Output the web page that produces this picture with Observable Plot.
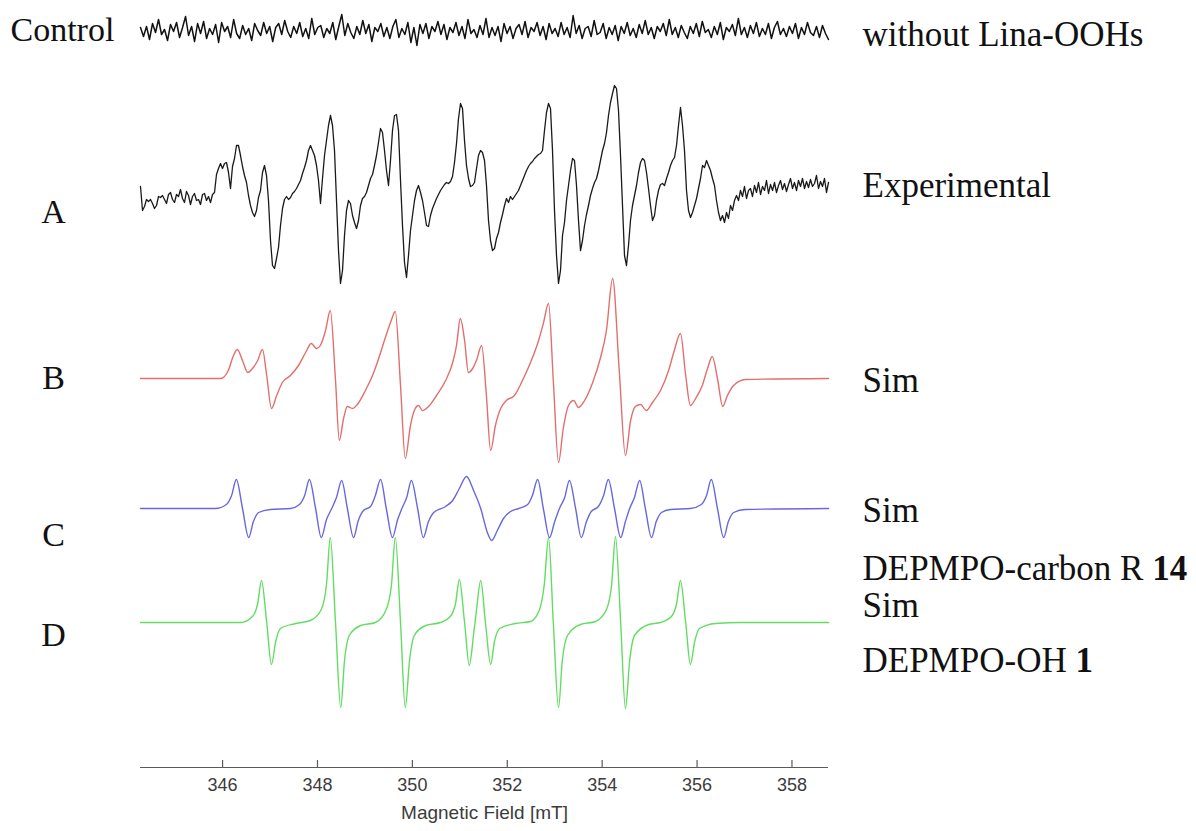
<!DOCTYPE html>
<html><head><meta charset="utf-8">
<script src="https://cdn.jsdelivr.net/npm/d3@7"></script>
<script src="https://cdn.jsdelivr.net/npm/@observablehq/plot@0.6"></script>
<style>body{margin:0;background:#fff}#chart svg{display:block}</style>
</head><body><div id="chart"></div>
<script>
// ---------- data (magnetic field in mT, signal in arbitrary units) ----------
const fieldStart = 344.27, fieldEnd = 358.77;
const fieldTicks = [346, 348, 350, 352, 354, 356, 358];

const controlSignal = [
3,-6,4,-9,7,-2,11,-4,1,-10,6,-1,8,-7,3,14,-5,4,-11,7,
-3,9,-8,2,-4,6,-12,8,-1,4,-7,11,-3,-8,5,-4,2,-10,7,0,
-5,8,-3,4,-11,3,7,-4,10,-1,-7,4,-3,8,-6,2,-8,12,-4,3,
5,-7,2,-3,8,-9,4,16,-5,7,-2,-8,4,-4,10,-3,6,-11,3,-1,
7,-6,3,-8,4,11,-7,2,-4,8,-12,3,-15,6,-3,7,-8,4,-1,9,
-4,6,-9,3,-2,8,-5,4,-8,11,-3,1,-7,5,-4,12,-7,3,-5,4,
-11,7,-3,4,-8,2,6,-4,9,-7,3,-1,8,-5,4,-9,7,-3,2,-6,
8,-4,3,-7,15,-3,5,-8,2,4,-6,10,-4,-2,7,-8,3,-4,5,-10,
4,-3,8,-5,2,-7,6,-3,10,-4,3,-8,4,-1,7,-5,11,-4,3,-7,
5,-2,-8,4,-3,7,-6,9,-2,1,-7,4,-4,8,-9,3,-1,6,-5,12,
-4,3,-7,5,-3,8,-6,2,-4,7,-8,3,9,-4,2,-6,4,-3,7,-8,
3,-4,8,-2,-5,4,-7,5,-3,-9];

const experimentalSignal = [
4,-20,-16,-9,-11,-9,-13,-18,-15,-6,-7,-5,-9,-13,-4,-2,-9,-12,-4,-6,
1,-8,-12,-1,-5,-14,-6,-3,-10,-9,-14,-4,-3,-10,-6,-12,-4,-2,16,22,
27,22,27,28,18,2,24,32,45,45,35,24,15,8,-5,-15,-22,-26,-20,-7,
0,18,25,15,-10,-50,-75,-78,-68,-57,-35,-18,-9,-6,-9,-7,-3,-1,2,6,
10,17,23,30,40,45,40,35,25,10,-13,12,35,50,65,75,65,40,-10,-60,
-93,-80,-45,-20,-10,-13,-25,-32,-38,-30,-15,-8,-6,-2,5,12,16,25,35,48,
62,58,40,20,5,30,60,75,76,60,10,-35,-72,-87,-65,-40,-25,-10,0,5,
-2,-10,-22,-35,-36,-25,-18,-13,-8,-4,0,3,6,8,7,9,14,28,47,72,
87,82,50,25,12,4,5,8,22,35,40,38,30,5,-30,-50,-60,-58,-48,-42,
-32,-24,-15,-8,-12,-6,-9,-6,-3,0,5,10,15,20,24,27,29,32,34,36,
37,40,60,78,87,82,40,-20,-65,-93,-80,-45,-32,-10,5,20,32,30,5,-30,
-60,-50,-35,-24,-15,-5,2,8,12,20,30,40,47,58,75,88,97,105,102,80,
35,-15,-65,-75,-55,-30,-15,-5,5,18,28,32,30,18,2,-15,-30,-25,-10,0,
6,7,5,12,18,25,30,33,45,65,83,65,40,0,-20,-27,-22,-15,-8,2,
12,25,23,30,25,20,12,5,-10,-22,-30,-25,-32,-22,-28,-15,-20,-10,-5,-10,
0,-6,4,-8,0,2,-6,5,-2,8,-4,4,0,10,-3,6,0,8,-2,5,
10,1,7,-1,6,12,2,8,0,10,4,12,2,9,3,11,4,7,15,2,
9,4,12,-2,8];

const simBField = [344.27,345.96,346.12,346.23,346.31,346.42,346.53,346.63,346.74,346.84,346.93,347.03,347.14,347.26,347.43,347.60,347.75,347.87,347.98,348.06,348.17,348.27,348.38,348.46,348.55,348.63,348.74,348.84,349.01,349.16,349.29,349.41,349.54,349.64,349.75,349.85,349.96,350.04,350.13,350.21,350.34,350.51,350.70,350.85,350.93,351.01,351.10,351.18,351.27,351.35,351.46,351.56,351.65,351.75,351.86,351.98,352.15,352.32,352.49,352.66,352.76,352.87,352.97,353.08,353.18,353.29,353.40,353.50,353.63,353.80,353.96,354.09,354.22,354.36,354.49,354.60,354.70,354.81,354.93,355.06,355.23,355.40,355.52,355.65,355.76,355.86,355.97,356.11,356.22,356.32,356.43,356.54,356.64,356.77,357.02,358.77];
const simBSignal = [0,0,8,23,29,18,6,10,18,29,3,-30,-17,-4,3,13,26,35,30,33,48,68,-2,-62,-40,-28,-30,-26,-12,3,20,38,56,67,-7,-80,-47,-32,-27,-32,-28,-17,-2,16,33,60,38,6,10,18,33,-17,-72,-47,-30,-22,-17,-2,16,38,55,75,-2,-84,-50,-27,-22,-29,-22,-4,20,48,100,8,-77,-42,-28,-26,-32,-24,-12,8,28,45,3,-27,-20,-7,10,22,0,-28,-17,-7,-1,0];

const simCField = [344.27,345.85,346.08,346.19,346.29,346.42,346.55,346.65,346.76,347.01,347.43,347.62,347.73,347.83,347.96,348.08,348.19,348.30,348.40,348.51,348.63,348.76,348.86,348.97,349.12,349.22,349.33,349.45,349.58,349.69,349.77,349.88,349.98,350.11,350.23,350.34,350.45,350.70,350.85,350.99,351.14,351.29,351.44,351.58,351.67,351.79,351.92,352.07,352.24,352.43,352.53,352.64,352.76,352.89,353.00,353.10,353.21,353.31,353.44,353.56,353.67,353.77,353.92,354.03,354.13,354.26,354.39,354.49,354.58,354.68,354.79,354.91,355.04,355.14,355.25,355.44,355.86,356.09,356.20,356.30,356.43,356.56,356.66,356.77,357.02,358.77];
const simCSignal = [0,0,4,13,29,0,-29,-13,-4,-1,0,4,13,29,0,-29,-11,0,11,28,0,-29,-12,-2,2,13,29,0,-29,-11,-1,11,28,0,-29,-13,-4,2,8,20,32,18,0,-24,-32,-22,-10,-3,0,4,13,29,0,-29,-13,0,11,28,0,-29,-13,-3,2,13,29,0,-29,-13,0,11,28,0,-29,-13,-4,-1,0,4,13,29,0,-29,-13,-4,-1,0];

const simDField = [344.27,346.38,346.63,346.74,346.82,346.93,347.03,347.12,347.22,347.54,347.85,348.08,348.19,348.27,348.38,348.49,348.57,348.67,348.91,349.22,349.45,349.56,349.64,349.75,349.85,349.94,350.04,350.28,350.59,350.80,350.91,350.99,351.10,351.20,351.29,351.35,351.44,351.54,351.65,351.73,351.84,352.17,352.49,352.68,352.78,352.87,352.97,353.08,353.16,353.27,353.54,353.86,354.09,354.20,354.28,354.39,354.49,354.58,354.68,354.98,355.23,355.46,355.57,355.65,355.76,355.86,355.95,356.05,356.39,356.92,358.77];
const simDSignal = [0,0,6,19,42,0,-42,-19,-6,-1,2,13,38,85,0,-85,-38,-13,-3,0,13,38,85,0,-85,-38,-13,-3,0,6,19,43,0,-43,-12,12,42,0,-42,-19,-6,-1,1,13,38,85,0,-85,-38,-13,-2,1,13,38,86,0,-86,-38,-13,-2,0,6,19,42,0,-42,-19,-6,-1,0,0];

const leftLetters = ["A", "B", "C", "D"];
const rightLabels = ["without Lina-OOHs", "Experimental", "Sim", "Sim", "DEPMPO-carbon R 14", "Sim", "DEPMPO-OH 1"];

// ---------- layout (vertical stacking offsets, label placement, styles) ----------
const offset = {control: 737, A: 577, B: 389, C: 259, D: 145};
const leftLetterY = [555, 389, 232, 132];
const rightLabelY = [733, 582, 387, 257, 199, 162, 107];
const serif = "'Liberation Serif','Times New Roman',Times,serif";
const sans = "'Liberation Sans',Arial,Helvetica,sans-serif";

function sweep(signal, off) {
  const n = signal.length;
  return signal.map((v, i) => ({field: fieldStart + i * (fieldEnd - fieldStart) / (n - 1), y: off + v}));
}
function pairs(field, signal, off) {
  return field.map((f, i) => ({field: f, y: off + signal[i]}));
}

const chart = Plot.plot({
  width: 1196, height: 831,
  marginLeft: 140, marginRight: 368, marginTop: 0, marginBottom: 64,
  x: {domain: [fieldStart, fieldEnd], axis: null},
  y: {domain: [0, 767], axis: null},
  style: {background: "#fff"},
  marks: [
    Plot.ruleY([0], {stroke: "#5a5a5a", strokeWidth: 1.2}),
    Plot.ruleX(fieldTicks, {x: d => d, y1: 0, y2: 7, stroke: "#5a5a5a", strokeWidth: 1.2}),
    Plot.text(fieldTicks, {x: d => d, frameAnchor: "bottom", dy: 23, text: d => String(d), fontSize: 18, fontFamily: sans, fill: "#3c3c3c"}),
    Plot.text(["Magnetic Field [mT]"], {frameAnchor: "bottom", dy: 51, fontSize: 19, fontFamily: sans, fill: "#3c3c3c"}),
    Plot.line(sweep(controlSignal, offset.control), {x: "field", y: "y", stroke: "#111", strokeWidth: 1.5}),
    Plot.line(sweep(experimentalSignal, offset.A), {x: "field", y: "y", stroke: "#1a1a1a", strokeWidth: 1.3}),
    Plot.line(pairs(simBField, simBSignal, offset.B), {x: "field", y: "y", stroke: "#e26f6d", strokeWidth: 1.4, curve: "monotone-x"}),
    Plot.line(pairs(simCField, simCSignal, offset.C), {x: "field", y: "y", stroke: "#6868dc", strokeWidth: 1.4, curve: "monotone-x"}),
    Plot.line(pairs(simDField, simDSignal, offset.D), {x: "field", y: "y", stroke: "#62dd62", strokeWidth: 1.4, curve: "monotone-x"}),
    Plot.text(["Control"], {frameAnchor: "left", y: () => offset.control, dx: -130, textAnchor: "start", fontSize: 34, fontFamily: serif, fill: "#111"}),
    Plot.text(leftLetters, {frameAnchor: "left", y: (d, i) => leftLetterY[i], dx: -87, textAnchor: "middle", fontSize: 34, fontFamily: serif, fill: "#111"}),
    Plot.text(rightLabels, {frameAnchor: "right", y: (d, i) => rightLabelY[i], dx: 34, textAnchor: "start", fontSize: 35, fontFamily: serif, fill: "#111"})
  ]
});

// bold compound numbers
d3.select(chart).selectAll("text").each(function () {
  const t = this.textContent;
  const m = /^(DEPMPO-.*) (\d+)$/.exec(t);
  if (m) {
    const s = d3.select(this);
    s.text(null);
    s.append("tspan").text(m[1] + " ");
    s.append("tspan").attr("font-weight", "bold").text(m[2]);
  }
});
document.getElementById("chart").append(chart);
</script></body></html>
